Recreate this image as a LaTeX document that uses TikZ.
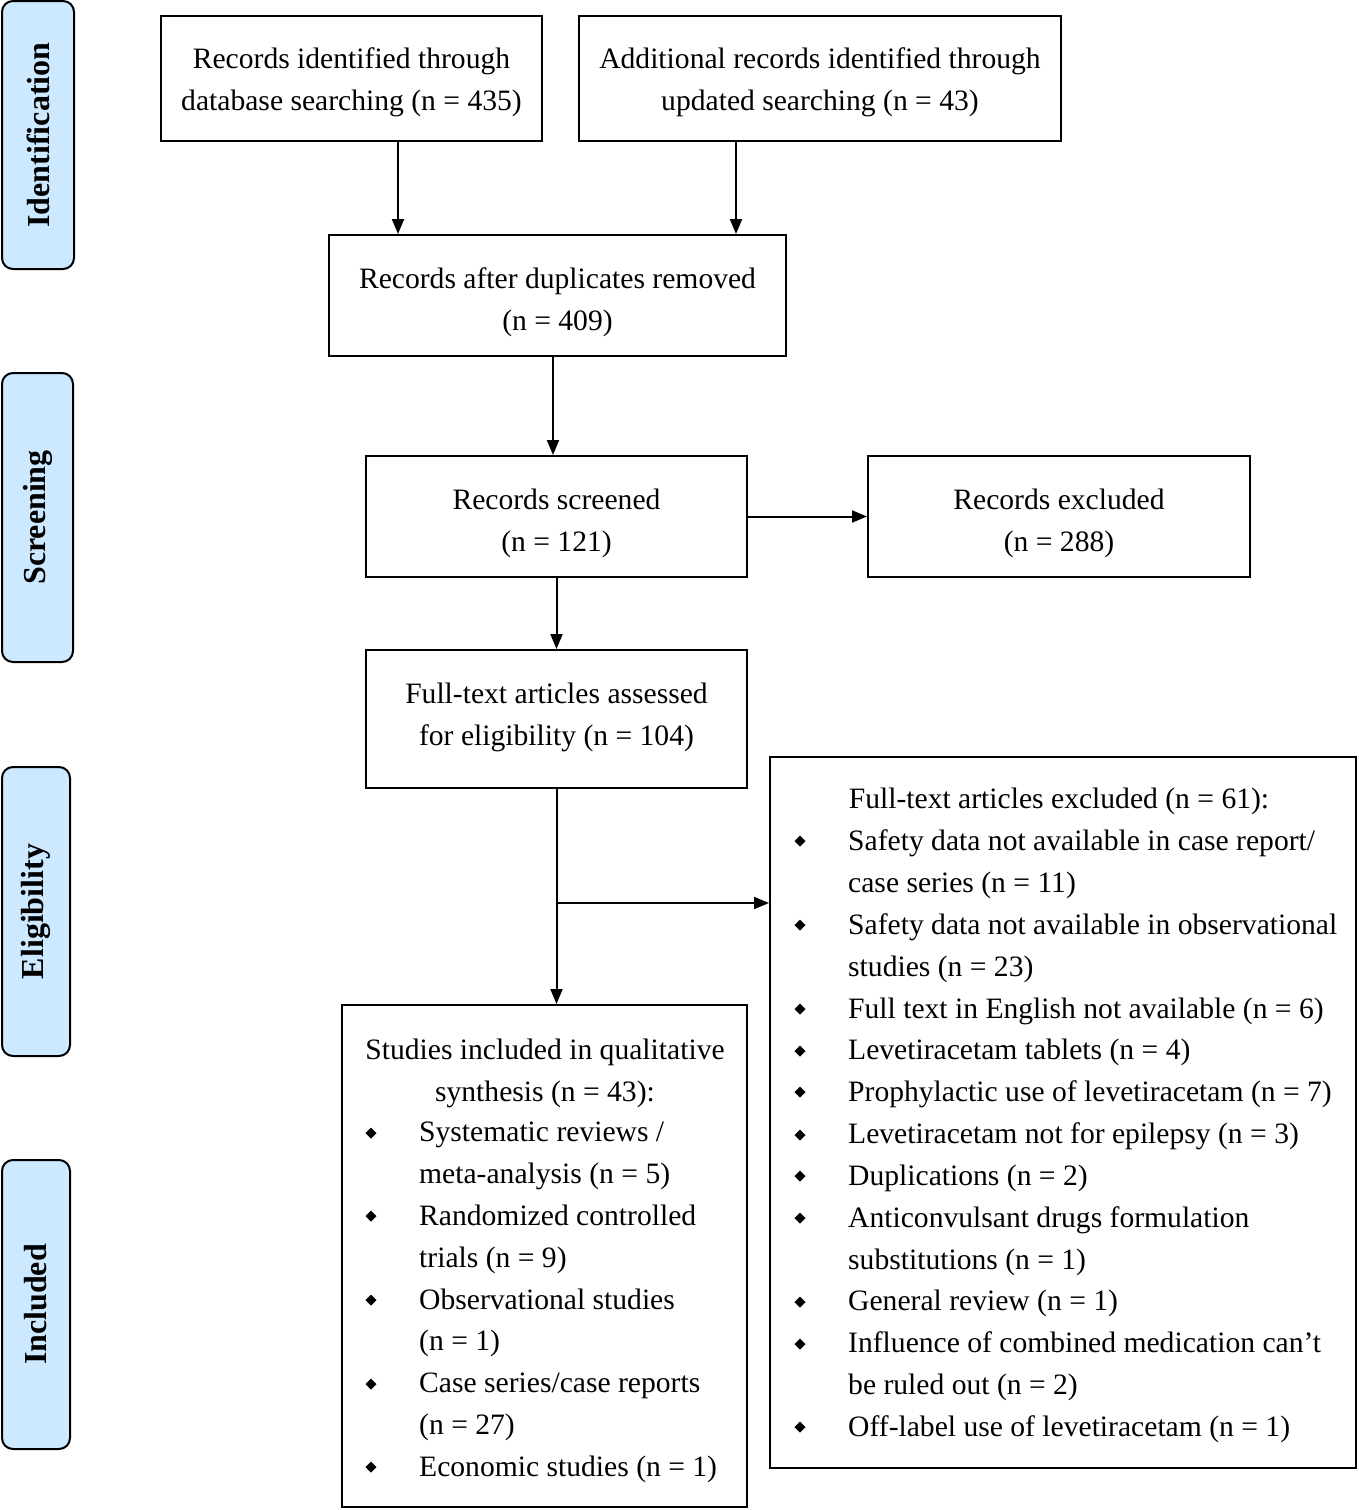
\documentclass[tikz,border=0pt]{standalone}
\usepackage{fontspec}
\setmainfont{Liberation Serif}
\usetikzlibrary{arrows.meta}
\definecolor{sideblue}{HTML}{CDE9FF}
\begin{document}
\begin{tikzpicture}[x=1pt,y=-1pt,
  box/.style={draw, line width=2pt, inner sep=0pt},
  boxtext/.style={align=center, inner sep=0pt, font=\fontsize{29.6}{42}\selectfont},
  listtext/.style={align=left, inner sep=0pt, font=\fontsize{29.6}{41.85}\selectfont},
  side/.style={draw, line width=2pt, fill=sideblue, rounded corners=11pt, inner sep=0pt},
  sidetext/.style={rotate=90, inner sep=0pt, font=\bfseries\fontsize{32}{32}\selectfont},
  arr/.style={line width=2pt, -{Triangle[length=15pt,width=12pt]}},
  bul/.style={fill=black}]
\useasboundingbox (0,0) rectangle (1358,1510);
\fill[white] (0,0) rectangle (1358,1510);

% side labels
\node[side, minimum width=72pt, minimum height=268pt] (sid) at (38,135) {};
\node[sidetext] (sidt) at (sid) {Identification};
\node[side, minimum width=71pt, minimum height=289pt] (sscr) at (37.5,517.5) {};
\node[sidetext] (sscrt) at (sscr) {Screening};
\node[side, minimum width=68pt, minimum height=289pt] (selg) at (36,911.5) {};
\node[sidetext] (selgt) at (selg) {Eligibility};
\node[side, minimum width=68pt, minimum height=289pt] (sinc) at (36,1304.5) {};
\node[sidetext] (sinct) at (sinc) {Included};

% boxes
\node[box, minimum width=381pt, minimum height=125pt] (a) at (351.5,78.5) {};
\node[boxtext] (at) at ([yshift=-3.5pt]a.center) {Records identified through\\database searching (n = 435)};
\node[box, minimum width=482pt, minimum height=125pt] (b) at (820,78.5) {};
\node[boxtext] (bt) at ([yshift=-3.5pt]b.center) {Additional records identified through\\updated searching (n = 43)};
\node[box, minimum width=457pt, minimum height=121pt] (c) at (557.5,295.5) {};
\node[boxtext] (ct) at ([yshift=-6.5pt]c.center) {Records after duplicates removed\\(n = 409)};
\node[box, minimum width=381pt, minimum height=121pt] (d) at (556.5,516.5) {};
\node[boxtext] (dt) at ([yshift=-6.5pt]d.center) {Records screened\\(n = 121)};
\node[box, minimum width=382pt, minimum height=121pt] (e) at (1059,516.5) {};
\node[boxtext] (et) at ([yshift=-6.5pt]e.center) {Records excluded\\(n = 288)};
\node[box, minimum width=381pt, minimum height=138pt] (f) at (556.5,719) {};
\node[boxtext] (ft) at ([yshift=2pt]f.center) {Full-text articles assessed\\for eligibility (n = 104)};
\node[box, minimum width=586pt, minimum height=711pt] (g) at (1063,1112.5) {};
\node[box, minimum width=405pt, minimum height=502pt] (h) at (544.5,1256) {};

% excluded list
\node[boxtext] (gt) at (1059,801) {Full-text articles excluded (n = 61):};
\node[listtext, anchor=base west] (gl) at (848,1436.5) {Safety data not available in case report/\\case series (n = 11)\\Safety data not available in observational\\studies (n = 23)\\Full text in English not available (n = 6)\\Levetiracetam tablets (n = 4)\\Prophylactic use of levetiracetam (n = 7)\\Levetiracetam not for epilepsy (n = 3)\\Duplications (n = 2)\\Anticonvulsant drugs formulation\\substitutions (n = 1)\\General review (n = 1)\\Influence of combined medication can’t\\be ruled out (n = 2)\\Off-label use of levetiracetam (n = 1)};
\foreach \yy in {841,925,1009,1051,1092,1135,1176,1218,1302,1344,1427}
  \fill[bul] (800,\yy) +(-5.5,0) -- +(0,-5.5) -- +(5.5,0) -- +(0,5.5) -- cycle;

% included list
\node[boxtext] (ht) at (545,1073) {Studies included in qualitative\\synthesis (n = 43):};
\node[listtext, anchor=base west] (hl) at (419,1476.5) {Systematic reviews /\\meta-analysis (n = 5)\\Randomized controlled\\trials (n = 9)\\Observational studies\\(n = 1)\\Case series/case reports\\(n = 27)\\Economic studies (n = 1)};
\foreach \yy in {1133,1216,1300,1384,1467}
  \fill[bul] (371,\yy) +(-5.5,0) -- +(0,-5.5) -- +(5.5,0) -- +(0,5.5) -- cycle;

% arrows
\draw[arr] ([xshift=46.5pt]a.south) -- ([xshift=46.5pt]a.south |- c.north);
\draw[arr] ([xshift=-84pt]b.south) -- ([xshift=-84pt]b.south |- c.north);
\draw[arr] ([xshift=-4.5pt]c.south) -- ([xshift=-4.5pt]c.south |- d.north);
\draw[arr] (d.east) -- (e.west);
\draw[arr] (d.south) -- (f.north);
\draw[arr] (f.south) -- (f.south |- h.north);
\coordinate (br) at (556.5,903);
\draw[arr] (br) -- (br -| g.west);
\end{tikzpicture}
\end{document}
